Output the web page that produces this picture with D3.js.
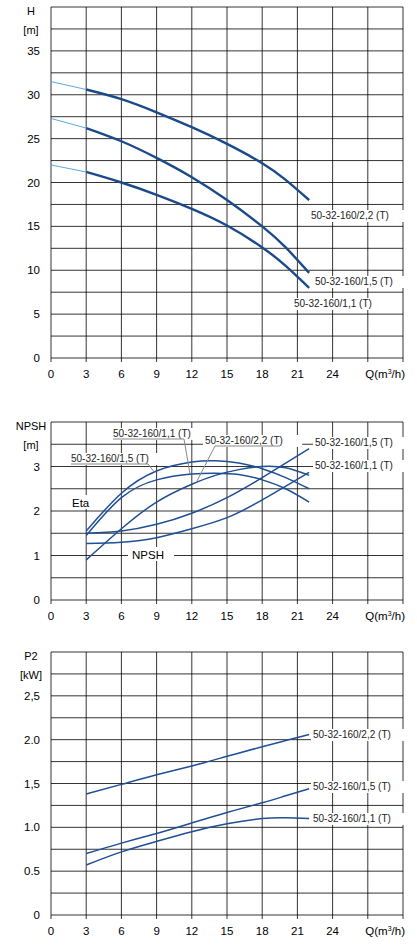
<!DOCTYPE html><html><head><script src="https://cdn.jsdelivr.net/npm/d3@7"></script>
<style>body{margin:0;background:#fff}text{font-family:Arial,"Liberation Sans",sans-serif}</style></head><body>
<svg id="c" width="417" height="948"></svg>
<script>
const xTicks=[0,3,6,9,12,15,18,21,24];
const hQ=[0,3,6,9,12,15,18,20,22];
const h22=[31.5,30.6,29.5,28,26.3,24.4,22.2,20.3,18];
const h15=[27.3,26.2,24.7,22.8,20.6,18,15,12.6,9.7];
const h11=[22,21.2,20,18.6,17,15.1,12.6,10.5,8];
const etaQ=[3,6,9,12,14,16,18,20,22];
const eta22=[0.9,1.6,2.2,2.6,2.8,2.93,3.0,2.97,2.8];
const eta15=[1.55,2.4,2.9,3.1,3.13,3.08,2.95,2.75,2.5];
const eta11=[1.45,2.3,2.7,2.83,2.85,2.82,2.7,2.5,2.2];
const npQ=[3,6,9,12,15,18,22];
const np15=[1.5,1.55,1.7,1.95,2.3,2.75,3.4];
const np11=[1.27,1.3,1.4,1.6,1.85,2.25,2.87];
const pQ=[3,6,9,12,15,18,20,22];
const p22=[1.38,1.49,1.6,1.7,1.81,1.92,1.99,2.06];
const p15=[0.7,0.82,0.93,1.05,1.17,1.28,1.36,1.44];
const p11=[0.57,0.72,0.84,0.95,1.04,1.1,1.11,1.1];
const svg=d3.select("#c");
const x=d3.scaleLinear().domain([0,30]).range([51,403]);
const col="#1f4f94";
function panel(top,bot,max,step,labs,fmt,ylab1,ylab2){
  const y=d3.scaleLinear().domain([0,max]).range([bot,top]);
  const g=svg.append("g");
  d3.range(0,max+1e-9,step).forEach(v=>g.append("line").attr("x1",51).attr("x2",403).attr("y1",y(v)).attr("y2",y(v)).attr("stroke","#000").attr("stroke-width",0.8));
  d3.range(0,31,3).forEach(v=>g.append("line").attr("x1",x(v)).attr("x2",x(v)).attr("y1",top).attr("y2",bot+4).attr("stroke","#000").attr("stroke-width",0.8));
  labs.forEach(v=>g.append("text").attr("x",40).attr("y",y(v)+4).attr("text-anchor","end").attr("font-size",11.5).text(fmt(v)));
  xTicks.forEach(v=>g.append("text").attr("x",x(v)).attr("y",bot+20).attr("text-anchor","middle").attr("font-size",11.5).text(v));
  g.append("text").attr("x",405).attr("y",bot+20).attr("text-anchor","end").attr("font-size",11.5).html("Q(m<tspan font-size='7' dy='-4'>3</tspan><tspan dy='4'>/h)</tspan>");
  g.append("text").attr("x",31).attr("y",top+8).attr("text-anchor","middle").attr("font-size",11).text(ylab1);
  g.append("text").attr("x",31).attr("y",top+27).attr("text-anchor","middle").attr("font-size",11).text(ylab2);
  return y;
}
function curve(y,xs,ys,w,c){
  svg.append("path").datum(xs.map((q,i)=>[q,ys[i]])).attr("fill","none").attr("stroke",c||col).attr("stroke-width",w)
   .attr("d",d3.line().x(d=>x(d[0])).y(d=>y(d[1])).curve(d3.curveNatural));
}
function label(px,py,t,bg){
  if(bg){svg.append("rect").attr("x",px-2).attr("y",py-9).attr("width",t.length*5.6+4).attr("height",12).attr("fill","#fff");}
  svg.append("text").attr("x",px).attr("y",py).attr("font-size",10).attr("fill","#222").text(t);
}
const y1=panel(7,358,40,2.5,[0,5,10,15,20,25,30,35],d=>d,"H","[m]");
[h22,h15,h11].forEach(hs=>{
  curve(y1,hQ.slice(0,2),hs.slice(0,2),1,"#5aa9df");
  curve(y1,hQ.slice(1),hs.slice(1),2.4,"#1b4a8a");
});
label(311,219,"50-32-160/2,2 (T)",true);
label(315,285,"50-32-160/1,5 (T)",true);
label(294,307,"50-32-160/1,1 (T)",true);
const y2=panel(422,600,4,0.5,[0,1,2,3],d=>d,"NPSH","[m]");
[eta22,eta15,eta11].forEach(e=>curve(y2,etaQ,e,1.5));
[np15,np11].forEach(e=>curve(y2,npQ,e,1.5));
label(315,446,"50-32-160/1,5 (T)",true);
label(315,469,"50-32-160/1,1 (T)",true);
label(113,437,"50-32-160/1,1 (T)",true);
label(205,444,"50-32-160/2,2 (T)",true);
label(71,462,"50-32-160/1,5 (T)",true);
const lk="#888";
svg.append("path").attr("d","M113,439H184L190,474").attr("fill","none").attr("stroke",lk);
svg.append("path").attr("d","M280,446H215L197,481").attr("fill","none").attr("stroke",lk);
svg.append("path").attr("d","M71,464H148L155,473").attr("fill","none").attr("stroke",lk);
svg.append("rect").attr("x",70).attr("y",495).attr("width",24).attr("height",14).attr("fill","#fff");
svg.append("text").attr("x",72).attr("y",507).attr("font-size",11.5).text("Eta");
svg.append("rect").attr("x",128).attr("y",547).attr("width",46).attr("height",14).attr("fill","#fff");
svg.append("text").attr("x",132).attr("y",559).attr("font-size",11.5).text("NPSH");
const y3=panel(652,915,3,0.25,[0,0.5,1,1.5,2,2.5],d=>d===0?"0":d3.format(".1f")(d).replace(".",d===2.5||d===1.5?",":"."),"P2","[kW]");
[p22,p15,p11].forEach(e=>curve(y3,pQ,e,1.5));
label(313,738,"50-32-160/2,2 (T)",true);
label(313,790,"50-32-160/1,5 (T)",true);
label(313,822,"50-32-160/1,1 (T)",true);
</script></body></html>
